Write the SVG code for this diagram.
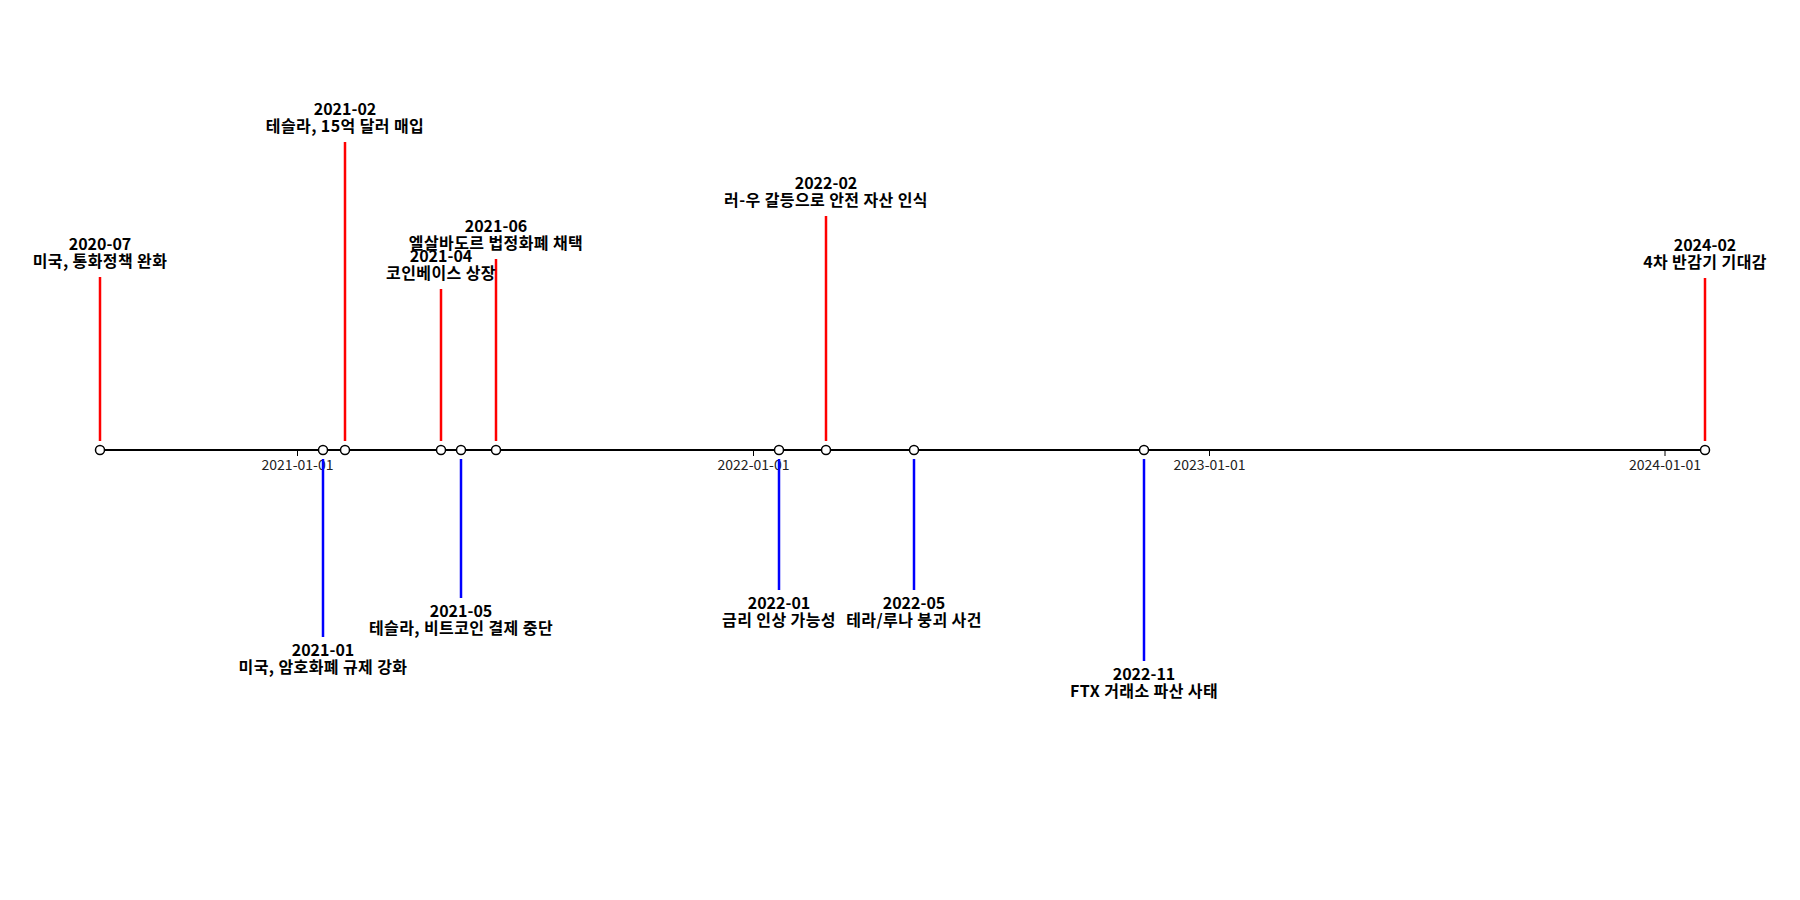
<svg xmlns="http://www.w3.org/2000/svg" width="1800" height="900" viewBox="0 0 1800 900">
<style>
.lbl{font-family:"Noto Sans CJK KR","Liberation Sans",sans-serif;font-size:16px;font-weight:bold;fill:#000;text-anchor:middle}
.k{letter-spacing:0.4px}
.tick{font-family:"Noto Sans CJK KR","Liberation Sans",sans-serif;font-size:14px;fill:#222;text-anchor:middle}
.up{stroke:#ff0000;stroke-width:2.5}
.dn{stroke:#0000ff;stroke-width:2.5}
.dot{fill:#fff;stroke:#000;stroke-width:1.5}
</style>
<rect width="1800" height="900" fill="#fff"/>
<g id="axis">
<line x1="100" y1="450" x2="1705" y2="450" stroke="#000" stroke-width="2"/>
<g stroke="#000" stroke-width="1"><line x1="297.5" y1="450" x2="297.5" y2="456"/><line x1="753.5" y1="450" x2="753.5" y2="456"/><line x1="1209.5" y1="450" x2="1209.5" y2="456"/><line x1="1665" y1="450" x2="1665" y2="456"/></g>
<text class="tick" x="297.5" y="470">2021-01-01</text>
<text class="tick" x="753.5" y="470">2022-01-01</text>
<text class="tick" x="1209.5" y="470">2023-01-01</text>
<text class="tick" x="1665" y="470">2024-01-01</text>
</g>
<g id="connectors">
<line class="up" x1="100" y1="277" x2="100" y2="441"/>
<line class="up" x1="345" y1="142" x2="345" y2="441"/>
<line class="up" x1="441" y1="289" x2="441" y2="441"/>
<line class="up" x1="496" y1="259" x2="496" y2="441"/>
<line class="up" x1="826" y1="216" x2="826" y2="441"/>
<line class="up" x1="1705" y1="278" x2="1705" y2="441"/>
<line class="dn" x1="323" y1="459" x2="323" y2="637"/>
<line class="dn" x1="461" y1="459" x2="461" y2="598"/>
<line class="dn" x1="779" y1="459" x2="779" y2="590"/>
<line class="dn" x1="914" y1="459" x2="914" y2="590"/>
<line class="dn" x1="1144" y1="459" x2="1144" y2="661"/>
</g>
<g id="e2020-07"><circle class="dot" cx="100" cy="450" r="4.5"/><text class="lbl" x="100" y="250">2020-07</text><text class="lbl k" x="100" y="267">미국, 통화정책 완화</text></g>
<g id="e2021-01"><circle class="dot" cx="323" cy="450" r="4.5"/><text class="lbl" x="323" y="656">2021-01</text><text class="lbl k" x="323" y="673">미국, 암호화폐 규제 강화</text></g>
<g id="e2021-02"><circle class="dot" cx="345" cy="450" r="4.5"/><text class="lbl" x="345" y="115">2021-02</text><text class="lbl k" x="345" y="132">테슬라, 15억 달러 매입</text></g>
<g id="e2021-04"><circle class="dot" cx="441" cy="450" r="4.5"/><text class="lbl" x="441" y="262">2021-04</text><text class="lbl k" x="441" y="279">코인베이스 상장</text></g>
<g id="e2021-05"><circle class="dot" cx="461" cy="450" r="4.5"/><text class="lbl" x="461" y="617">2021-05</text><text class="lbl k" x="461" y="634">테슬라, 비트코인 결제 중단</text></g>
<g id="e2021-06"><circle class="dot" cx="496" cy="450" r="4.5"/><text class="lbl" x="496" y="232">2021-06</text><text class="lbl k" x="496" y="249">엘살바도르 법정화폐 채택</text></g>
<g id="e2022-01"><circle class="dot" cx="779" cy="450" r="4.5"/><text class="lbl" x="779" y="609">2022-01</text><text class="lbl k" x="779" y="626">금리 인상 가능성</text></g>
<g id="e2022-02"><circle class="dot" cx="826" cy="450" r="4.5"/><text class="lbl" x="826" y="189">2022-02</text><text class="lbl k" x="826" y="206">러-우 갈등으로 안전 자산 인식</text></g>
<g id="e2022-05"><circle class="dot" cx="914" cy="450" r="4.5"/><text class="lbl" x="914" y="609">2022-05</text><text class="lbl k" x="914" y="626">테라/루나 붕괴 사건</text></g>
<g id="e2022-11"><circle class="dot" cx="1144" cy="450" r="4.5"/><text class="lbl" x="1144" y="680">2022-11</text><text class="lbl k" x="1144" y="697">FTX 거래소 파산 사태</text></g>
<g id="e2024-02"><circle class="dot" cx="1705" cy="450" r="4.5"/><text class="lbl" x="1705" y="251">2024-02</text><text class="lbl k" x="1705" y="268">4차 반감기 기대감</text></g>
</svg>
